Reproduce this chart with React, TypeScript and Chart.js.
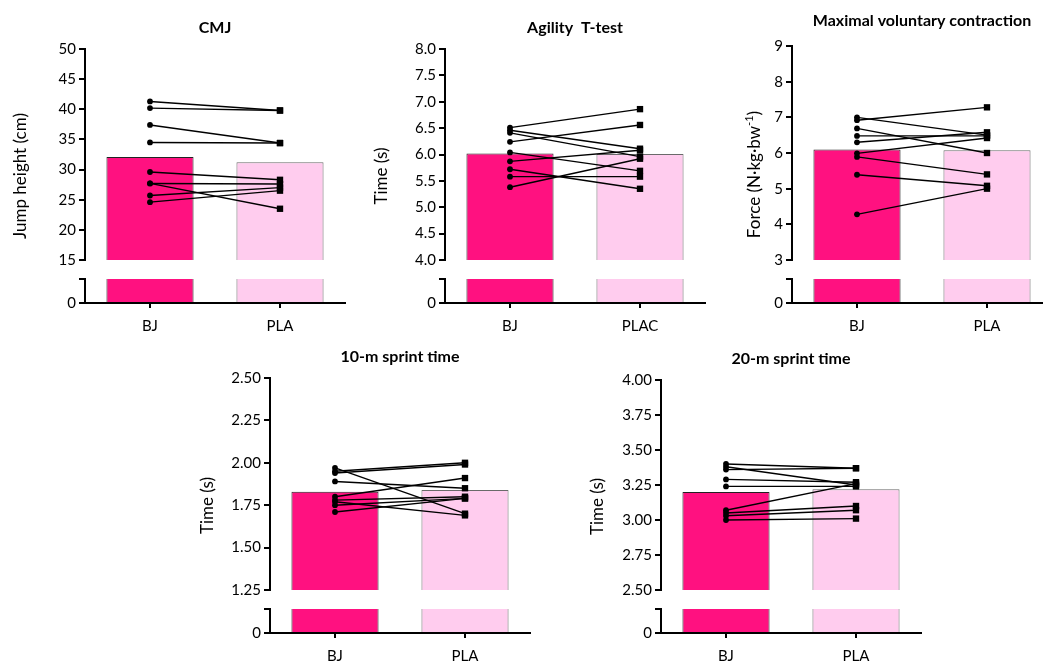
import React, { useEffect, useRef } from 'react';
import { Chart, registerables } from 'chart.js';

Chart.register(...registerables);
Chart.defaults.font.family = "Lato, 'Open Sans', sans-serif";

// ---------- data ----------
const groupLabels = ['BJ', 'PLA'];
const groupLabelsAgility = ['BJ', 'PLAC'];

const cmjBJ = [41.3, 40.2, 37.4, 34.5, 29.6, 27.7, 27.7, 25.7, 24.6];
const cmjPLA = [39.8, 39.8, 34.4, 34.4, 28.3, 27.6, 23.5, 27.0, 26.5];
const cmjMeans = [32.1, 31.2];
const cmjTicks = [15, 20, 25, 30, 35, 40, 45, 50];

const agilityBJ = [6.51, 6.46, 6.41, 6.24, 6.04, 5.87, 5.72, 5.58, 5.38];
const agilityPLA = [6.86, 6.11, 5.96, 6.56, 5.69, 6.08, 5.35, 5.58, 5.92];
const agilityMeans = [6.02, 6.01];
const agilityTicks = [4.0, 4.5, 5.0, 5.5, 6.0, 6.5, 7.0, 7.5, 8.0];

const mvcBJ = [7.0, 6.92, 6.69, 6.48, 6.3, 5.99, 5.89, 5.39, 4.28];
const mvcPLA = [6.5, 7.28, 6.0, 6.48, 6.58, 6.42, 5.4, 5.08, 5.0];
const mvcMeans = [6.1, 6.08];
const mvcTicks = [3, 4, 5, 6, 7, 8, 9];

const sprint10BJ = [1.97, 1.95, 1.94, 1.89, 1.8, 1.78, 1.77, 1.75, 1.71];
const sprint10PLA = [1.7, 2.0, 1.99, 1.85, 1.91, 1.8, 1.69, 1.79, 1.79];
const sprint10Means = [1.83, 1.84];
const sprint10Ticks = [1.25, 1.5, 1.75, 2.0, 2.25, 2.5];

const sprint20BJ = [3.4, 3.38, 3.36, 3.29, 3.24, 3.07, 3.05, 3.03, 3.0];
const sprint20PLA = [3.37, 3.25, 3.37, 3.27, 3.24, 3.26, 3.1, 3.07, 3.01];
const sprint20Means = [3.2, 3.22];
const sprint20Ticks = [2.5, 2.75, 3.0, 3.25, 3.5, 3.75, 4.0];

// ---------- styles ----------
const barFill = ['#FF1180', '#FFCCEE'];
const barEdge = ['#222222', '#6a6a6a'];
const GAP_H = 19;
const LOW_H = 24;
const PAD_L = 80;
const PAD_T = 49;
const PAD_R = 15;
const YW = 40;
const XH = 40;

type PanelDef = {
  title: string;
  yTitle: string;
  ySup?: string;
  yEnd?: string;
  labels: string[];
  bj: number[];
  pla: number[];
  means: number[];
  ticks: number[];
  decimals: number;
  lowMax: number;
  left: number;
  top: number;
  width: number;
  height: number;
  titleGap: number;
  yTitleGap: number;
};

const panels: PanelDef[] = [
  { title: 'CMJ', yTitle: 'Jump height (cm)', labels: groupLabels, bj: cmjBJ, pla: cmjPLA, means: cmjMeans, ticks: cmjTicks, decimals: 0, lowMax: 4, left: 85, top: 49, width: 260, height: 254, titleGap: 21, yTitleGap: 64 },
  { title: 'Agility  T-test', yTitle: 'Time (s)', labels: groupLabelsAgility, bj: agilityBJ, pla: agilityPLA, means: agilityMeans, ticks: agilityTicks, decimals: 1, lowMax: 0.45, left: 445, top: 49, width: 260, height: 254, titleGap: 21, yTitleGap: 63 },
  { title: 'Maximal voluntary contraction', yTitle: 'Force (N·kg·bw', ySup: '-1', yEnd: ')', labels: groupLabels, bj: mvcBJ, pla: mvcPLA, means: mvcMeans, ticks: mvcTicks, decimals: 0, lowMax: 0.7, left: 792, top: 46, width: 260, height: 257, titleGap: 25, yTitleGap: 37 },
  { title: '10-m sprint time', yTitle: 'Time (s)', labels: groupLabels, bj: sprint10BJ, pla: sprint10PLA, means: sprint10Means, ticks: sprint10Ticks, decimals: 2, lowMax: 0.14, left: 270, top: 378, width: 260, height: 255, titleGap: 21, yTitleGap: 62 },
  { title: '20-m sprint time', yTitle: 'Time (s)', labels: groupLabels, bj: sprint20BJ, pla: sprint20PLA, means: sprint20Means, ticks: sprint20Ticks, decimals: 2, lowMax: 0.17, left: 661, top: 380, width: 260, height: 253, titleGap: 21, yTitleGap: 63 },
];

const textPlugin = {
  id: 'panelText',
  afterDraw(chart: any, _args: any, opts: any) {
    const { ctx, chartArea } = chart;
    ctx.save();
    ctx.fillStyle = '#000';
    ctx.font = "bold 16px Lato, 'Open Sans', sans-serif";
    ctx.textAlign = 'center';
    ctx.textBaseline = 'middle';
    ctx.fillText(opts.title, (chartArea.left + chartArea.right) / 2, chartArea.top - opts.titleGap);

    ctx.translate(chartArea.left - opts.yTitleGap, (chartArea.top + chartArea.bottom) / 2);
    ctx.rotate(-Math.PI / 2);
    const mainFont = "17px Lato, 'Open Sans', sans-serif";
    const supFont = "11px Lato, 'Open Sans', sans-serif";
    ctx.font = mainFont;
    const w1 = ctx.measureText(opts.yTitle).width;
    let w2 = 0;
    let w3 = 0;
    if (opts.ySup) {
      ctx.font = supFont;
      w2 = ctx.measureText(opts.ySup).width;
      ctx.font = mainFont;
      w3 = ctx.measureText(opts.yEnd || '').width;
    }
    const total = w1 + w2 + w3;
    let x = -total / 2;
    ctx.textAlign = 'left';
    ctx.font = mainFont;
    ctx.fillText(opts.yTitle, x, 0);
    x += w1;
    if (opts.ySup) {
      ctx.font = supFont;
      ctx.fillText(opts.ySup, x, -6);
      x += w2;
      ctx.font = mainFont;
      ctx.fillText(opts.yEnd || '', x, 0);
    }
    ctx.restore();
  },
};

function buildConfig(p: PanelDef): any {
  const topH = p.height - GAP_H - LOW_H;
  const lineSets = p.bj.map((v, i) => ({
    type: 'line',
    data: [v, p.pla[i]],
    yAxisID: 'yTop',
    borderColor: '#000',
    borderWidth: 1.4,
    pointStyle: ['circle', 'rect'],
    pointRadius: [2.9, 4.5],
    pointBackgroundColor: '#000',
    pointBorderColor: '#000',
    pointBorderWidth: 0,
    order: 0,
    clip: false,
  }));
  const barTop = {
    type: 'bar',
    data: p.means,
    yAxisID: 'yTop',
    backgroundColor: barFill,
    borderColor: barEdge,
    borderWidth: { left: 1, right: 1, top: 1, bottom: 0 },
    borderSkipped: false,
    grouped: false,
    barPercentage: 0.67,
    categoryPercentage: 1,
    order: 2,
  };
  const barLow = {
    type: 'bar',
    data: p.means.map((m) => Math.min(m, p.lowMax)),
    yAxisID: 'yLow',
    backgroundColor: barFill,
    borderColor: barEdge,
    borderWidth: { left: 1, right: 1, top: 0, bottom: 0 },
    borderSkipped: false,
    grouped: false,
    barPercentage: 0.67,
    categoryPercentage: 1,
    order: 2,
  };
  const axisGrid = { display: true, drawOnChartArea: false, drawTicks: true, color: '#000', lineWidth: 2 };
  const axisBorder = { display: true, color: '#000', width: 2 };
  const tickFont = { size: 15 };
  return {
    type: 'bar',
    data: { labels: p.labels, datasets: [...lineSets, barTop, barLow] },
    options: {
      animation: false,
      responsive: false,
      maintainAspectRatio: false,
      layout: { padding: { left: PAD_L - YW, top: PAD_T, right: PAD_R, bottom: 0 } },
      plugins: {
        legend: { display: false },
        tooltip: { enabled: false },
        title: { display: false },
        panelText: { title: p.title, titleGap: p.titleGap, yTitle: p.yTitle, ySup: p.ySup, yEnd: p.yEnd, yTitleGap: p.yTitleGap },
      },
      scales: {
        x: {
          type: 'category',
          offset: true,
          grid: { ...axisGrid, tickLength: 5, offset: false },
          border: axisBorder,
          ticks: { color: '#000', font: tickFont, padding: 9 },
          afterFit: (s: any) => { s.height = XH; },
        },
        yTop: {
          type: 'linear',
          position: 'left',
          stack: 'ystack',
          stackWeight: topH,
          weight: 3,
          min: p.ticks[0],
          max: p.ticks[p.ticks.length - 1],
          afterBuildTicks: (s: any) => { s.ticks = p.ticks.map((v) => ({ value: v })); },
          ticks: { color: '#000', font: tickFont, padding: 3, autoSkip: false, callback: (v: any) => Number(v).toFixed(p.decimals) },
          grid: { ...axisGrid, tickLength: 6 },
          border: axisBorder,
          afterFit: (s: any) => { s.width = YW; },
        },
        yGap: {
          type: 'linear',
          position: 'left',
          stack: 'ystack',
          stackWeight: GAP_H,
          weight: 2,
          display: false,
          min: 0,
          max: 1,
        },
        yLow: {
          type: 'linear',
          position: 'left',
          stack: 'ystack',
          stackWeight: LOW_H,
          weight: 1,
          min: 0,
          max: p.lowMax,
          afterBuildTicks: (s: any) => { s.ticks = [{ value: 0 }, { value: p.lowMax }]; },
          ticks: { color: '#000', font: tickFont, padding: 3, autoSkip: false, callback: (v: any) => (Number(v) === 0 ? '0' : '') },
          grid: { ...axisGrid, tickLength: 6 },
          border: axisBorder,
          afterFit: (s: any) => { s.width = YW; },
        },
      },
    },
    plugins: [textPlugin],
  };
}

function Panel({ p }: { p: PanelDef }) {
  const ref = useRef<HTMLCanvasElement | null>(null);
  const cw = PAD_L + p.width + PAD_R;
  const ch = PAD_T + p.height + XH;
  useEffect(() => {
    if (!ref.current) return;
    const chart = new Chart(ref.current, buildConfig(p));
    return () => chart.destroy();
  }, [p]);
  return (
    <canvas
      ref={ref}
      width={cw}
      height={ch}
      style={{ position: 'absolute', left: p.left - PAD_L, top: p.top - PAD_T, width: cw, height: ch }}
    />
  );
}

export default function App() {
  return (
    <div style={{ position: 'absolute', left: 0, top: 0, width: 1043, height: 662, overflow: 'hidden', background: '#fff' }}>
      {panels.map((p) => (
        <Panel key={p.title} p={p} />
      ))}
    </div>
  );
}
